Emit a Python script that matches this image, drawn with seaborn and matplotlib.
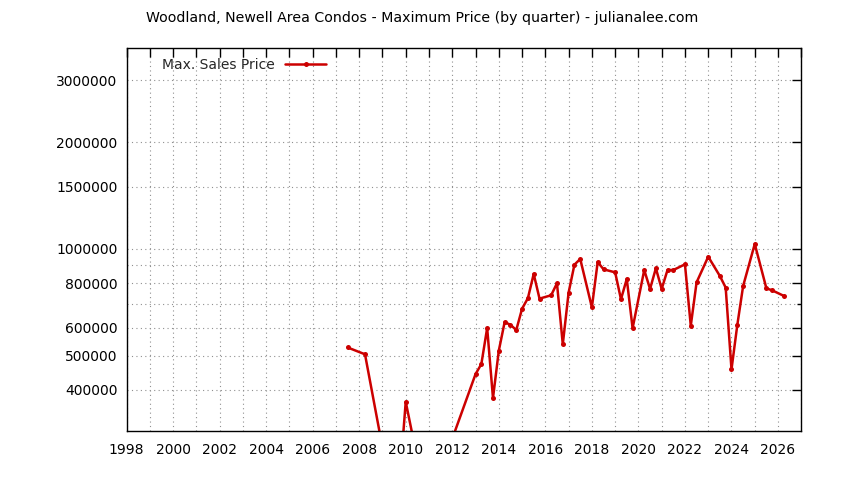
import matplotlib
matplotlib.use("Agg")
import matplotlib.pyplot as plt
import matplotlib.ticker as mticker
import seaborn as sns
import pandas as pd

# quarterly max prices (points below 300000 are off the chart bottom)
quarters = [2007.5, 2008.25, 2009.0, 2009.75, 2010.0, 2010.5, 2011.5, 2012.0,
            2013.0, 2013.25, 2013.5, 2013.75, 2014.0, 2014.25, 2014.5, 2014.75,
            2015.0, 2015.25, 2015.5, 2015.75, 2016.25, 2016.5, 2016.75, 2017.0,
            2017.25, 2017.5, 2018.0, 2018.25, 2018.5, 2019.0, 2019.25, 2019.5,
            2019.75, 2020.25, 2020.5, 2020.75, 2021.0, 2021.25, 2021.5, 2022.0,
            2022.25, 2022.5, 2023.0, 2023.5, 2023.75, 2024.0, 2024.25, 2024.5,
            2025.0, 2025.5, 2025.75, 2026.25]
max_price = [527000, 504000, 275000, 227000, 370000, 255000, 240000, 291000,
             443000, 473000, 598000, 379000, 516000, 621000, 611000, 590000,
             678000, 726000, 850000, 724000, 740000, 800000, 538000, 753000,
             903000, 937000, 684000, 919000, 876000, 859000, 721000, 823000,
             597000, 872000, 771000, 882000, 771000, 872000, 872000, 905000,
             607000, 805000, 951000, 839000, 778000, 457000, 610000, 786000,
             1033000, 774000, 764000, 737000]

y_major = [400000, 500000, 600000, 800000, 1000000, 1500000, 2000000, 3000000]
y_minor = [700000, 900000]
x_major = list(range(1998, 2027, 2))
x_minor = list(range(1998, 2028))

df = pd.DataFrame({"Quarter": quarters, "Price": max_price})

sns.set_style("white")
plt.rcParams['font.family'] = ['DejaVu Sans']

W, H = 844, 480
fig = plt.figure(figsize=(W / 100, H / 100), dpi=100)
left, right, top, bottom = 126.5, 801.3, 48.3, 431.0
ax = fig.add_axes([left / W, 1 - bottom / H, (right - left) / W, (bottom - top) / H])

red = '#cc0000'
sns.lineplot(data=df, x="Quarter", y="Price", ax=ax, color=red, linewidth=1.8,
             marker='o', markersize=3.6, markeredgewidth=0, markeredgecolor=red,
             estimator=None, sort=False, label='Max. Sales Price')

ax.set_yscale('log')
ax.set_xlim(1998, 2027)
ax.set_ylim(306000, 3690000)

ax.yaxis.set_major_locator(mticker.FixedLocator(y_major))
ax.yaxis.set_minor_locator(mticker.FixedLocator(y_minor))
ax.yaxis.set_major_formatter(mticker.FuncFormatter(lambda v, p: f"{int(round(v))}"))
ax.yaxis.set_minor_formatter(mticker.NullFormatter())
ax.xaxis.set_major_locator(mticker.FixedLocator(x_major))
ax.xaxis.set_minor_locator(mticker.FixedLocator(x_minor))

ax.set_xlabel("")
ax.set_ylabel("")

ax.tick_params(which='both', direction='in', top=True, right=True, color='black',
               width=1.0, labelsize=10, labelcolor='black')
ax.tick_params(which='major', length=6.5)
ax.tick_params(axis='y', which='major', pad=6.5)
ax.tick_params(axis='x', which='major', pad=9)
ax.tick_params(axis='y', which='minor', length=3)
ax.tick_params(axis='x', which='minor', length=6.5)

ax.grid(True, which='both', linestyle=(0, (1, 3)), color='#909090', linewidth=0.8)
for s in ax.spines.values():
    s.set_color('black')
    s.set_linewidth(1.0)

ax.legend(loc='upper left', bbox_to_anchor=(0.052, 0.975), frameon=False,
          markerfirst=False, handlelength=3.0, handletextpad=0.75, fontsize=10,
          borderpad=0, borderaxespad=0, numpoints=1)

fig.text(0.5, 1 - 18 / H, "Woodland, Newell Area Condos - Maximum Price (by quarter) - julianalee.com",
         ha='center', va='center', fontsize=10.2, color='black')

fig.savefig("out.png", dpi=100)
